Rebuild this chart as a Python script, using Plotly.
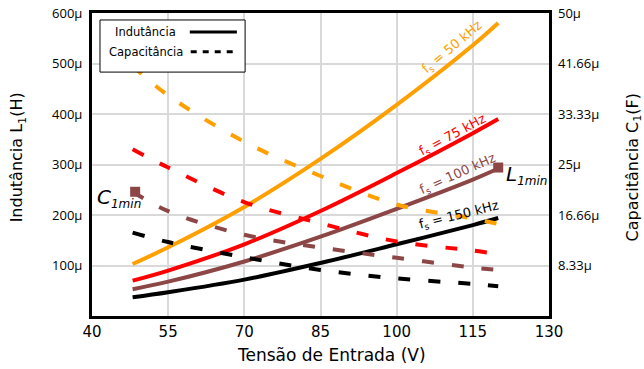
import plotly.graph_objects as go

# ---- data ----
tensao = [48, 55, 70, 85, 100, 115, 120]  # V

# Inductance (µH)
L_50k = [103, 136, 216, 311, 418, 536, 580]
L_75k = [70, 90, 142, 208, 283, 362, 390]
L_100k = [53, 68, 108, 157, 212, 270, 292]
L_150k = [37, 47, 72, 105, 142, 180, 194]

# Capacitance (µF)
C_50k = [41.25, 36.4, 28.75, 23.1, 18.4, 16.1, 15.2]
C_75k = [27.5, 24.5, 18.8, 15.3, 12.3, 10.8, 10.2]
C_100k = [20.5, 17.3, 13.4, 11.3, 9.6, 8.0, 7.6]
C_150k = [13.75, 12.2, 9.7, 7.6, 6.2, 5.3, 4.9]

freq_labels = ["f<sub>s</sub> = 50 kHz", "f<sub>s</sub> = 75 kHz",
               "f<sub>s</sub> = 100 kHz", "f<sub>s</sub> = 150 kHz"]
colors = ["#FFA000", "#FF0000", "#8C4646", "#000000"]

L_ticks = [100, 200, 300, 400, 500, 600]
L_ticktext = ["100µ", "200µ", "300µ", "400µ", "500µ", "600µ"]
C_ticks = [8.33, 16.66, 25, 33.33, 41.66, 50]
C_ticktext = ["8.33µ", "16.66µ", "25µ", "33.33µ", "41.66µ", "50µ"]
x_ticks = [40, 55, 70, 85, 100, 115, 130]

L1min = (120, 294)
C1min = (48.5, 20.5)

# label positions (V, L-equivalent) and angles
label_pos = [(111.0, 531, -40), (111.0, 358, -28), (112.0, 281, -24), (112.3, 200, -14)]

fig = go.Figure()
Ls = [L_50k, L_75k, L_100k, L_150k]
Cs = [C_50k, C_75k, C_100k, C_150k]
for L, C, col in zip(Ls, Cs, colors):
    fig.add_trace(go.Scatter(x=tensao, y=L, mode="lines",
                             line=dict(color=col, width=4, shape="spline"),
                             showlegend=False, yaxis="y", hoverinfo="skip"))
    fig.add_trace(go.Scatter(x=tensao, y=C, mode="lines",
                             line=dict(color=col, width=4, shape="spline", dash="12px,18px"),
                             showlegend=False, yaxis="y2", hoverinfo="skip"))

fig.add_trace(go.Scatter(x=[L1min[0]], y=[L1min[1]], mode="markers",
                         marker=dict(symbol="square", size=10, color="#8C4646"),
                         showlegend=False, yaxis="y", hoverinfo="skip"))
fig.add_trace(go.Scatter(x=[C1min[0]], y=[C1min[1]], mode="markers",
                         marker=dict(symbol="square", size=10, color="#8C4646"),
                         showlegend=False, yaxis="y2", hoverinfo="skip"))

annotations = []
for (vx, vy, ang), txt, col in zip(label_pos, freq_labels, colors):
    annotations.append(dict(x=vx, y=vy, xref="x", yref="y", text=txt, showarrow=False,
                            textangle=ang, font=dict(family="DejaVu Sans", size=13, color=col)))

annotations.append(dict(x=125.6, y=279, xref="x", yref="y", showarrow=False,
                        text="<i>L</i><sub><i style='font-size:12px'>1min</i></sub>",
                        font=dict(family="DejaVu Sans", size=20, color="black")))
annotations.append(dict(x=45.4, y=234, xref="x", yref="y", showarrow=False,
                        text="<i>C</i><sub><i style='font-size:12px'>1min</i></sub>",
                        font=dict(family="DejaVu Sans", size=20, color="black")))

# manual legend (text left, sample right)
annotations.append(dict(x=0.046, y=0.937, xref="paper", yref="paper", xanchor="left",
                        yanchor="middle", showarrow=False, text="Indutância",
                        font=dict(family="DejaVu Sans", size=11.5, color="black")))
annotations.append(dict(x=0.033, y=0.872, xref="paper", yref="paper", xanchor="left",
                        yanchor="middle", showarrow=False, text="Capacitância",
                        font=dict(family="DejaVu Sans", size=11.5, color="black")))

# axis titles
annotations.append(dict(x=-0.161, y=0.525, xref="paper", yref="paper", showarrow=False,
                        xanchor="center", yanchor="middle",
                        textangle=-90, text="Indutância L<sub>1</sub>(H)",
                        font=dict(family="DejaVu Sans", size=16, color="black")))
annotations.append(dict(x=1.185, y=0.492, xref="paper", yref="paper", showarrow=False,
                        xanchor="center", yanchor="middle",
                        textangle=-90, text="Capacitância C<sub>1</sub>(F)",
                        font=dict(family="DejaVu Sans", size=16, color="black")))
annotations.append(dict(x=0.525, y=-0.129, xref="paper", yref="paper", showarrow=False,
                        xanchor="center", yanchor="middle",
                        text="Tensão de Entrada (V)",
                        font=dict(family="DejaVu Sans", size=17, color="black")))

shapes = [
    dict(type="rect", xref="paper", yref="paper", x0=0.0175, x1=0.335, y0=0.805, y1=0.977,
         line=dict(color="black", width=1), fillcolor="white", layer="above"),
    dict(type="line", xref="paper", yref="paper", x0=0.214, x1=0.317, y0=0.937, y1=0.937,
         line=dict(color="black", width=3), layer="above"),
    dict(type="line", xref="paper", yref="paper", x0=0.216, x1=0.317, y0=0.872, y1=0.872,
         line=dict(color="black", width=3, dash="6px,6px"), layer="above"),
]

fig.update_layout(
    width=644, height=369,
    margin=dict(l=92, r=95, t=13, b=53),
    plot_bgcolor="white", paper_bgcolor="white",
    font=dict(family="DejaVu Sans", color="black"),
    annotations=annotations, shapes=shapes, hovermode=False,
    xaxis=dict(range=[40, 130], tickvals=x_ticks, showgrid=True, gridcolor="#d9d9d9", gridwidth=2,
               showline=True, linecolor="black", linewidth=3, mirror=True, zeroline=False,
               automargin=False,
               tickfont=dict(family="DejaVu Sans", size=15)),
    yaxis=dict(range=[0, 600], tickvals=L_ticks, ticktext=L_ticktext, showgrid=True,
               gridcolor="#d9d9d9", gridwidth=2, showline=True, linecolor="black", linewidth=3,
               mirror=True, zeroline=False, ticklabelstandoff=4, automargin=False,
               tickfont=dict(family="Open Sans", size=13)),
    yaxis2=dict(range=[0, 50], tickvals=C_ticks, ticktext=C_ticktext, overlaying="y", side="right",
                showgrid=False, zeroline=False, showline=False, ticklabelstandoff=8, automargin=False,
                tickfont=dict(family="Open Sans", size=13)),
)

fig.write_html("out.html", config={"displayModeBar": False},
               post_script="document.body.style.margin='0';")
